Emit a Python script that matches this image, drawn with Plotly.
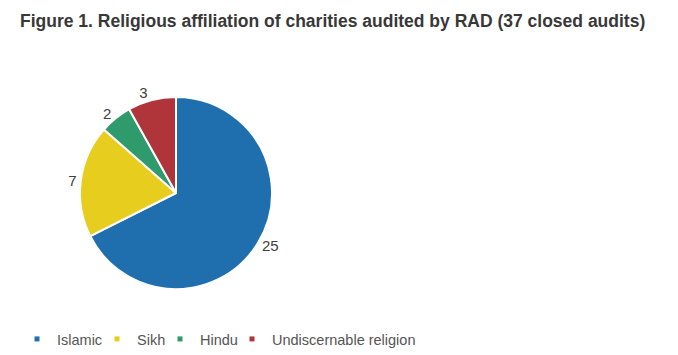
import plotly.graph_objects as go

labels = ["Islamic", "Sikh", "Hindu", "Undiscernable religion"]
values = [25, 7, 2, 3]
colors = ["#1f6fae", "#e6cd1e", "#2f9a6b", "#b0353b"]

W, H = 678, 355
FONT = "Arial, Liberation Sans, sans-serif"
# left edges of each legend entry (pixels) — layout only
legend_x_px = [17, 97, 160, 232]

fig = go.Figure()
fig.add_trace(go.Pie(
    labels=labels, values=values, sort=False, direction="clockwise", rotation=0,
    marker=dict(colors=colors, line=dict(color="white", width=2)),
    textinfo="value", textposition="outside",
    textfont=dict(family=FONT, size=15, color="#404040"),
    domain=dict(x=[80 / W, 272 / W], y=[(H - 289) / H, (H - 97) / H]),
    showlegend=False,
))

layout_legends = {}
for i, (lab, col) in enumerate(zip(labels, colors)):
    lname = "legend" if i == 0 else f"legend{i + 1}"
    fig.add_trace(go.Scatter(
        x=[None], y=[None], mode="markers", name=lab,
        marker=dict(symbol="square", size=5, color=col),
        showlegend=True, legend=lname, hoverinfo="skip",
    ))
    layout_legends[lname] = dict(
        orientation="h", x=legend_x_px[i] / W, xanchor="left",
        y=1 - 339 / H, yanchor="middle", bgcolor="rgba(0,0,0,0)",
        font=dict(family=FONT, size=14.5, color="#555555"),
    )

fig.update_layout(
    width=W, height=H,
    margin=dict(l=0, r=0, t=0, b=0),
    paper_bgcolor="white", plot_bgcolor="white",
    xaxis=dict(visible=False), yaxis=dict(visible=False),
    title=dict(text="<b>Figure 1. Religious affiliation of charities audited by RAD (37 closed audits)</b>",
               x=20 / W, xanchor="left", y=1 - 21 / H, yanchor="middle",
               font=dict(family=FONT, size=17.5, color="#383838")),
    **layout_legends,
)
fig.write_html("out.html", config={"displayModeBar": False},
               post_script="document.body.style.margin='0';")
